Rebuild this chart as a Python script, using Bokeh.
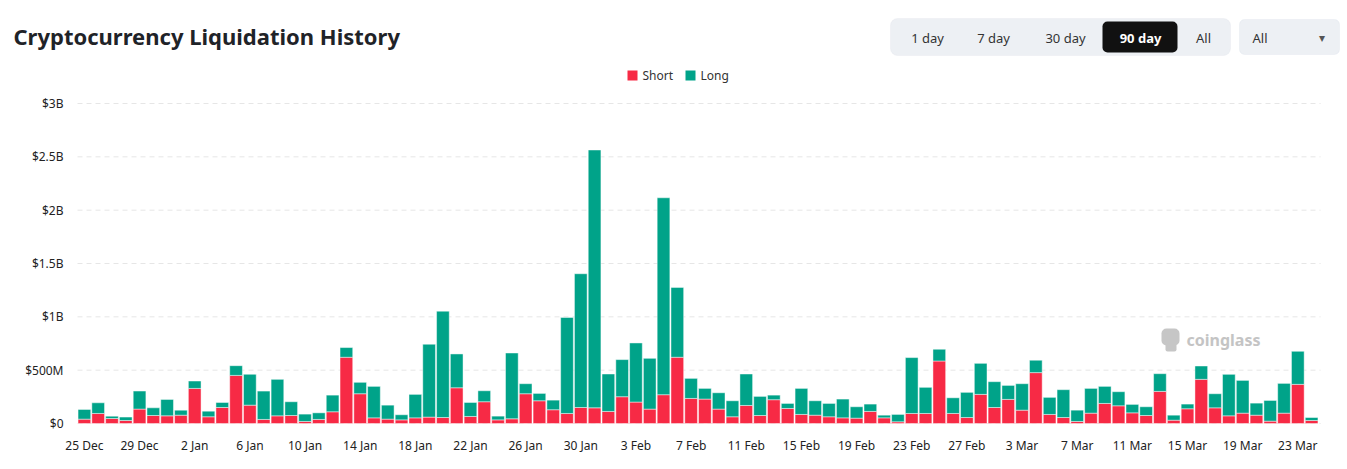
import pandas as pd
from bokeh.plotting import figure
from bokeh.models import ColumnDataSource, FixedTicker, Label, BoxAnnotation, Range1d
from bokeh.embed import file_html
from bokeh.resources import INLINE

# Daily liquidations, millions of USD
dates = pd.date_range("2024-12-25", "2025-03-24", freq="D")
short_liq = [41, 94, 47, 28, 135, 75, 72, 78, 329, 63, 150, 451, 172, 38, 72, 75, 19, 38, 110, 621,
             279, 53, 41, 34, 53, 60, 56, 335, 66, 204, 34, 44, 279, 213, 129, 94, 150, 147, 113, 251,
             201, 135, 270, 621, 235, 229, 135, 63, 169, 75, 223, 141, 85, 78, 63, 53, 50, 113, 53, 16,
             94, 94, 586, 94, 56, 273, 150, 226, 125, 477, 85, 56, 19, 97, 188, 166, 100, 75, 301, 31,
             138, 414, 147, 72, 97, 78, 22, 97, 367, 28]
long_liq = [91, 100, 22, 32, 169, 72, 154, 47, 69, 53, 47, 91, 289, 266, 342, 129, 69, 62, 156, 91,
            107, 295, 131, 48, 220, 683, 997, 317, 131, 103, 35, 617, 94, 69, 90, 900, 1254, 2417, 351, 348,
            554, 476, 1846, 655, 188, 100, 153, 150, 295, 179, 43, 47, 244, 135, 125, 176, 107, 69, 25, 69,
            524, 245, 110, 147, 236, 291, 242, 131, 248, 116, 160, 261, 106, 232, 160, 132, 79, 82, 166, 47,
            44, 125, 132, 389, 307, 113, 194, 279, 310, 28]

y_ticks = [0, 500, 1000, 1500, 2000, 2500, 3000]
y_tick_labels = ["$0", "$500M", "$1B", "$1.5B", "$2B", "$2.5B", "$3B"]
x_tick_idx = list(range(0, len(dates), 4))
x_tick_labels = [f"{d.day} {d.strftime('%b')}" for d in dates[::4]]

range_buttons = ["1 day", "7 day", "30 day", "90 day", "All"]
series_names = ["Short", "Long"]

RED = "#F72A45"
GREEN = "#00A389"
FONT = "Noto Sans"

# canvas and bar-area geometry (pixels)
W, H = 1347, 469
AREA_L, AREA_R = 77, 1318       # horizontal extent of the bars
AREA_T, AREA_B = 103, 423       # $3B line and zero line
Y_MAX = 3000

n = len(dates)
px_per_day = (AREA_R - AREA_L) / n
px_per_m = (AREA_B - AREA_T) / Y_MAX

# the frame fills the whole canvas; ranges are chosen so the bar area lands where it should
x_range = Range1d(-0.5 - AREA_L / px_per_day, n - 0.5 + (W - AREA_R) / px_per_day)
y_range = Range1d(-(H - AREA_B) / px_per_m, Y_MAX + AREA_T / px_per_m)

p = figure(width=W, height=H, output_backend="svg", toolbar_location=None,
           x_range=x_range, y_range=y_range,
           min_border=0, min_border_left=0, min_border_right=0,
           min_border_top=0, min_border_bottom=0)
p.outline_line_color = None
p.background_fill_color = "white"
p.border_fill_color = "white"
p.grid.visible = False

# dashed value lines across the bar area only
p.segment(x0=[-0.5] * len(y_ticks), x1=[n - 0.5 + 0.15] * len(y_ticks), y0=y_ticks, y1=y_ticks,
          line_color="#e6e6e6", line_width=1, line_dash="5 4")

src = ColumnDataSource(dict(x=list(range(n)), Short=short_liq, Long=long_liq))
p.vbar_stack(series_names, x="x", width=0.92, source=src, color=[RED, GREEN],
             line_color="white", line_alpha=0.45, line_width=1)

# axes sit inside the frame at fixed data positions
p.yaxis.fixed_location = -0.5
p.xaxis.fixed_location = 0
p.yaxis.ticker = FixedTicker(ticks=y_ticks)
p.yaxis.major_label_overrides = dict(zip(y_ticks, y_tick_labels))
p.xaxis.ticker = FixedTicker(ticks=x_tick_idx)
p.xaxis.major_label_overrides = dict(zip(x_tick_idx, x_tick_labels))
for ax in (p.xaxis[0], p.yaxis[0]):
    ax.axis_line_color = None
    ax.major_tick_line_color = None
    ax.minor_tick_line_color = None
    ax.major_label_text_font = FONT
    ax.major_label_text_font_size = "12px"
    ax.major_label_text_color = "#222222"
p.yaxis.major_label_standoff = 8
p.xaxis.major_label_standoff = 7


# overlay helpers in canvas pixels (top-down)
def box(l, r, t, b, fill, line=None, radius=0):
    p.add_layout(BoxAnnotation(left=l, right=r, top=H - t, bottom=H - b,
                               left_units="screen", right_units="screen",
                               top_units="screen", bottom_units="screen",
                               fill_color=fill, fill_alpha=1,
                               line_color=line, line_width=1, border_radius=radius,
                               level="annotation"))


def text(cx, cy, s, size="12px", color="#333333", align="left", style="normal", font=FONT):
    p.add_layout(Label(x=cx, y=H - cy, x_units="screen", y_units="screen", text=s,
                       text_font=font, text_font_size=size, text_color=color,
                       text_align=align, text_baseline="middle", text_font_style=style,
                       level="annotation"))


text(13, 35, "Cryptocurrency Liquidation History", size="22px", color="#1f2328", style="bold")

# range selector
box(890, 1230, 18, 55, "#edf0f4", line="#e2e6ea", radius=7)
box(1102, 1177, 21, 52, "#111111", radius=5)
for label, cx in zip(range_buttons, [927, 993, 1065, 1140, 1203]):
    active = label == "90 day"
    text(cx, 37, label, size="13px", color="white" if active else "#333333",
         align="center", style="bold" if active else "normal")

# dropdown
box(1239, 1339, 19, 54, "#edf0f4", line="#dbe2ea", radius=5)
text(1252, 37, "All", size="13px", color="#333333")
text(1321, 37, "▾", size="12px", color="#555555", align="center")

# legend
for name, color, x0 in zip(series_names, [RED, GREEN], [627, 685]):
    box(x0, x0 + 10, 70, 80, color)
    text(x0 + 15, 75, name, size="12px", color="#333333")

# watermark
box(1161, 1179, 328, 345, "#c6c6c6", radius=5)
box(1165, 1176, 343, 351, "#c6c6c6", radius=2)
text(1186, 339, "coinglass", size="16px", color="#c4c4c4", style="bold")

open("out.html", "w").write(file_html(p, INLINE))
